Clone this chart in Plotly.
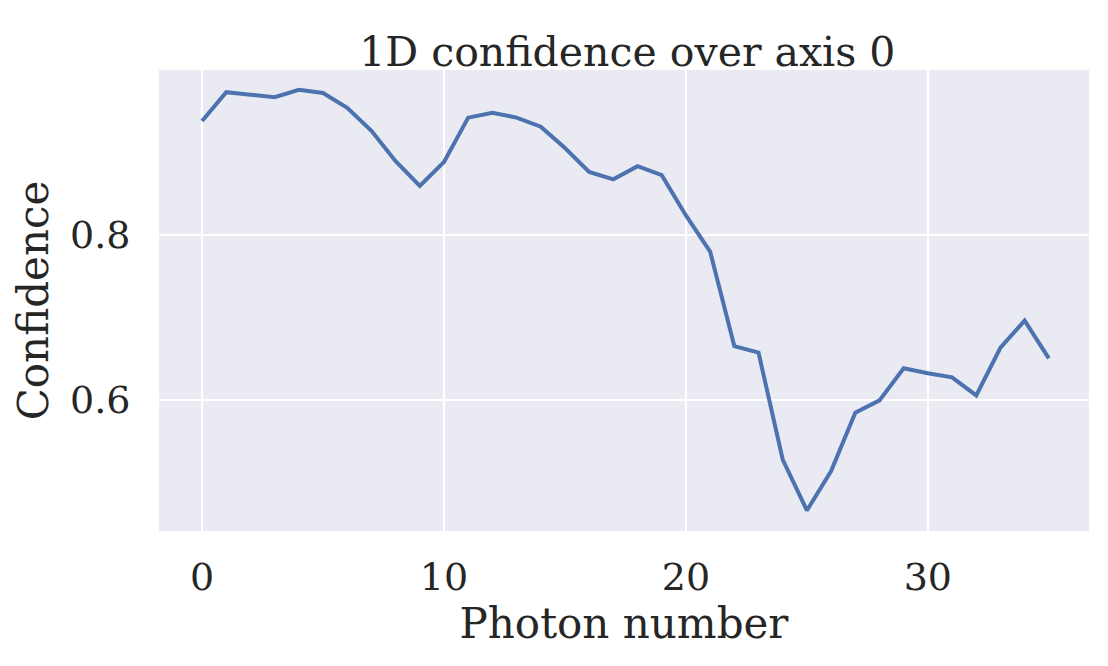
import plotly.graph_objects as go

photon = list(range(36))
confidence = [0.939, 0.974, 0.971, 0.968, 0.977, 0.973, 0.955, 0.927, 0.890, 0.860,
              0.889, 0.943, 0.949, 0.943, 0.932, 0.906, 0.877, 0.868, 0.884, 0.873,
              0.824, 0.780, 0.665, 0.657, 0.527, 0.465, 0.513, 0.584, 0.599, 0.638,
              0.632, 0.627, 0.605, 0.663, 0.696, 0.650]

fig = go.Figure(go.Scatter(x=photon, y=confidence, mode="lines",
                           line=dict(color="#4c72b0", width=4)))
font = dict(family="DejaVu Serif", color="#262626")
fig.update_layout(
    width=1100, height=658, paper_bgcolor="white", plot_bgcolor="#eaeaf2",
    margin=dict(l=151, r=19, t=62, b=135, autoexpand=False),
    title=dict(text="1D confidence over axis 0", x=0.563, xanchor="center", y=0.955,
               font=dict(size=41, **font)),
    font=dict(size=38, **font), showlegend=False,
)
fig.update_xaxes(range=[-1.78, 36.66], tickvals=[0, 10, 20, 30], gridcolor="white",
                 gridwidth=2, zeroline=False, showline=False, ticks="outside",
                 ticklen=12, tickcolor="rgba(0,0,0,0)", automargin=False,
                 title=dict(text="Photon number", font=dict(size=42), standoff=10))
fig.update_yaxes(range=[0.44, 1.001], tickvals=[0.6, 0.8], tickformat=".1f", gridcolor="white",
                 gridwidth=2, zeroline=False, showline=False, ticks="outside",
                 ticklen=20, tickcolor="rgba(0,0,0,0)", automargin=False,
                 title=dict(text="Confidence", font=dict(size=42), standoff=8))
fig.write_html("out.html")
